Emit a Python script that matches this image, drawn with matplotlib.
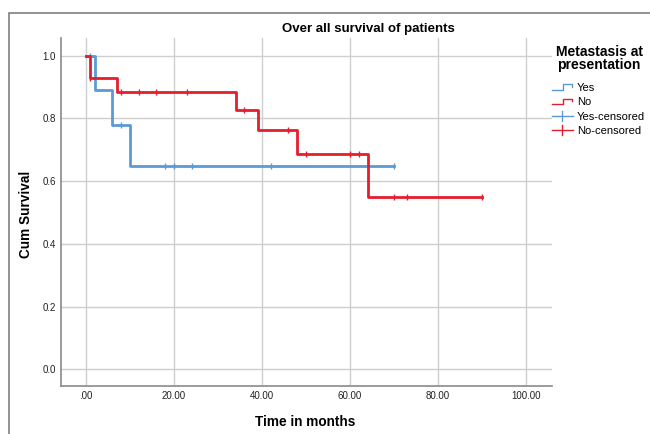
import matplotlib
matplotlib.use('Agg')
import matplotlib.pyplot as plt
import numpy as np
from matplotlib.lines import Line2D
from matplotlib.legend_handler import HandlerBase
from matplotlib.patches import Rectangle

# step curves (time of change, survival after it)
yes_t = [0, 2, 6, 10, 70]
yes_s = [1.0, 0.889, 0.778, 0.648, 0.648]
no_t = [0, 0.8, 7, 34, 39, 48, 64, 90]
no_s = [1.0, 0.929, 0.885, 0.826, 0.763, 0.687, 0.55, 0.55]

# censored times
yes_cens = [1, 8, 18, 20, 24, 42, 70]
no_cens = [1, 8, 12, 16, 23, 36, 46, 50, 60, 62, 70, 73, 90]

xticks = [0, 20, 40, 60, 80, 100]
xlabels = ['.00', '20.00', '40.00', '60.00', '80.00', '100.00']
yticks = [0.0, 0.2, 0.4, 0.6, 0.8, 1.0]

BLUE = '#5b9bd5'
RED = '#e31e2d'

plt.rcParams['font.family'] = ['Liberation Sans', 'DejaVu Sans']


def level_at(t_arr, s_arr, x):
    i = np.searchsorted(t_arr, x, side='right') - 1
    return np.array(s_arr)[i]


class StepHandler(HandlerBase):
    def create_artists(self, legend, orig, xd, yd, w, h, fontsize, trans):
        xs = np.array([0, 0.55, 0.55, 0.95, 0.95]) * w - xd
        ys = np.array([0.15, 0.15, 0.85, 0.85, 0.55]) * h - yd
        ln = Line2D(xs, ys, color=orig.get_color(), lw=1.0)
        ln.set_transform(trans)
        return [ln]


class CensHandler(HandlerBase):
    def create_artists(self, legend, orig, xd, yd, w, h, fontsize, trans):
        ln = Line2D([-xd, w - xd], [h / 2 - yd] * 2, color=orig.get_color(), lw=1.0)
        tk = Line2D([w / 2 - xd] * 2, [-yd - 0.15 * h, h - yd + 0.15 * h],
                    color=orig.get_color(), lw=1.0)
        ln.set_transform(trans)
        tk.set_transform(trans)
        return [ln, tk]


fig = plt.figure(figsize=(6.5, 4.34), dpi=100)
ax = fig.add_axes([61 / 650, 1 - 386 / 434, (552 - 61) / 650, (386 - 38) / 434])

ax.step(yes_t, yes_s, where='post', color=BLUE, lw=2.0, zorder=3)
ax.step(no_t, no_s, where='post', color=RED, lw=2.0, zorder=4)
ax.plot(yes_cens, level_at(yes_t, yes_s, yes_cens), ls='none', marker='|',
        ms=5, mew=1.0, color=BLUE, zorder=3)
ax.plot(no_cens, level_at(no_t, no_s, no_cens), ls='none', marker='|',
        ms=5, mew=1.0, color=RED, zorder=4)

ax.set_xlim(-5.7, 105.9)
ax.set_ylim(-0.053, 1.056)
ax.set_xticks(xticks)
ax.set_xticklabels(xlabels)
ax.set_yticks(yticks)
ax.set_yticklabels(['%.1f' % v for v in yticks])
ax.tick_params(length=0, labelsize=7, pad=3.5, colors='#222222')
ax.grid(True, color='#cfcfcf', lw=1.0)
ax.set_axisbelow(True)
for s in ['top', 'right']:
    ax.spines[s].set_visible(False)
for s in ['left', 'bottom']:
    ax.spines[s].set_color('#8a8a8a')
    ax.spines[s].set_linewidth(1.2)

fig.text(305 / 650, 1 - 422 / 434, 'Time in months', ha='center', va='center',
         fontsize=9.8, fontweight='bold')
fig.text(26 / 650, 1 - 214 / 434, 'Cum Survival', ha='center', va='center',
         rotation=90, fontsize=9.8, fontweight='bold')
fig.text(368 / 650, 1 - 29 / 434, 'Over all survival of patients', ha='center',
         va='center', fontsize=9.5, fontweight='bold')

# legend title drawn on its own so the gap to the entries matches
fig.text(599 / 650, 1 - 58.5 / 434, 'Metastasis at\npresentation', ha='center',
         va='center', fontsize=10, fontweight='bold', linespacing=1.0)

h_yes = Line2D([], [], color=BLUE)
h_no = Line2D([], [], color=RED)
h_yc = Line2D([], [], color=BLUE)
h_nc = Line2D([], [], color=RED)
leg = fig.legend([h_yes, h_no, h_yc, h_nc],
                 ['Yes', 'No', 'Yes-censored', 'No-censored'],
                 handler_map={h_yes: StepHandler(), h_no: StepHandler(),
                              h_yc: CensHandler(), h_nc: CensHandler()},
                 loc='upper left', bbox_to_anchor=(544 / 650, 1 - 75 / 434),
                 frameon=False, fontsize=8, handlelength=1.9,
                 handletextpad=0.35, labelspacing=0.4, borderpad=0.2)

fig.patches.append(Rectangle((9 / 650, -0.1), 1.2, 1.1 - 13 / 434,
                             transform=fig.transFigure, fill=False,
                             ec='#808080', lw=1.2))

fig.savefig('out.png', dpi=100)
